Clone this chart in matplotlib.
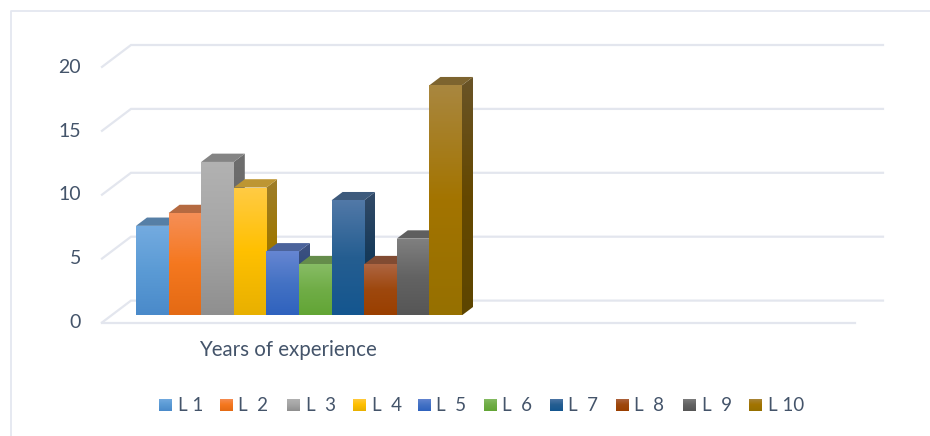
import numpy as np
import matplotlib
matplotlib.use("Agg")
import matplotlib.pyplot as plt
from matplotlib.colors import LinearSegmentedColormap, to_rgb
from matplotlib.patches import Polygon, Rectangle

plt.rcParams["font.family"] = ["Lato", "DejaVu Sans"]

labels = ["L 1", "L  2", "L  3", "L  4", "L  5", "L  6", "L  7", "L  8", "L  9", "L 10"]
values = [7, 8, 12, 10, 5, 4, 9, 4, 6, 18]
y_ticks = [0, 5, 10, 15, 20]
x_label = "Years of experience"

# gradient top / middle / bottom of each front face
top_cols = ["#74ABE0", "#F58F58", "#B2B2B2", "#FFCB45", "#6686D2", "#88BD66", "#5279A8", "#AE6644", "#808080", "#A98740"]
mid_cols = ["#5B9BD5", "#F5781F", "#A5A5A5", "#FFC000", "#4472C4", "#70AD47", "#255E91", "#9E480E", "#636363", "#A37400"]
bot_cols = ["#4A8ACA", "#E46A14", "#8F8F8F", "#E8B000", "#2F62BE", "#62A535", "#14568F", "#9A3F00", "#565656", "#967000"]

W, H = 930, 436
X0, Y0 = 136.0, 315.3  # pixel position of first bar's front bottom corner
BAR_PX, UNIT_PX = 32.6, 12.78
DX, DY = 11 / BAR_PX, 8.3 / UNIT_PX  # bar depth in data units
GRID = "#E3E6EE"
TEXT = "#44546A"


def px(x, y):
    return (x - X0) / BAR_PX, (Y0 - y) / UNIT_PX


def darker(col, f):
    return tuple(c * f for c in to_rgb(col))


def gradient(ax, patch, box, cols, z):
    cmap = LinearSegmentedColormap.from_list("g", cols)
    ramp = np.linspace(0, 1, 128).reshape(-1, 1)
    im = ax.imshow(ramp, extent=box, origin="upper", cmap=cmap, aspect="auto", zorder=z)
    im.set_clip_path(patch)


fig = plt.figure(figsize=(W / 100, H / 100), dpi=100)
ax = fig.add_axes([0, 0, 1, 1])
xlim = (px(0, 0)[0], px(W, 0)[0])
ylim = (px(0, H)[1], px(0, 0)[1])
ax.axis("off")

# outer frame
fx0, fy0 = px(10.5, 10.5)
fx1, fy1 = px(W, H)
ax.plot([fx0, fx0, fx1], [fy1, fy0, fy0], color="#E4E7F0", lw=1.3, zorder=1)

# walls: back grid lines, slanted side lines, front floor edge
bx0, base_back = px(131, 300.6)
bx1 = px(883, 0)[0]
sx0, base_front = px(102, 322.5)
fx_end = px(855, 0)[0]
for v in y_ticks:
    ax.plot([sx0, bx0, bx1], [v + base_front, v + base_back, v + base_back],
            color=GRID, lw=1.6, zorder=1, solid_joinstyle="miter")
ax.plot([sx0, fx_end], [base_front, base_front], color=GRID, lw=1.6, zorder=1)

for v in y_ticks:
    ax.text(px(81, 0)[0], v + base_front - 0.02, str(v), ha="right", va="center",
            fontsize=14, color=TEXT)

# bars, left to right so every bar hides the side of the one before
bars = ax.bar(np.arange(len(values)), values, width=1.0, align="edge", color="none", linewidth=0)
for i, (bar, v) in enumerate(zip(bars, values)):
    z = 3 + i
    side = Polygon([(i + 1, 0), (i + 1 + DX, DY), (i + 1 + DX, v + DY), (i + 1, v)], closed=True,
                   facecolor="none", edgecolor="none", zorder=z)
    ax.add_patch(side)
    gradient(ax, side, (i + 1, i + 1 + DX, 0, v + DY),
             [darker(top_cols[i], 0.62), darker(mid_cols[i], 0.62), darker(bot_cols[i], 0.62)], z)
    ax.add_patch(Polygon([(i, v), (i + DX, v + DY), (i + 1 + DX, v + DY), (i + 1, v)], closed=True,
                         facecolor=darker(top_cols[i], 0.74), edgecolor="none", zorder=z))
    bar.set_zorder(z)
    gradient(ax, bar, (i, i + 1, 0, v), [top_cols[i], mid_cols[i], bot_cols[i]], z)

ax.text(*px(288, 350), x_label, ha="center", va="center", fontsize=14.8, color=TEXT)

# legend
key_x = [159, 220, 287, 353, 418, 484, 550, 616, 683, 749]
for i, (kx, lab) in enumerate(zip(key_x, labels)):
    x0, y0 = px(kx, 411.5)
    x1, y1 = px(kx + 13, 398.5)
    key = Rectangle((x0, y0), x1 - x0, y1 - y0, facecolor="none", edgecolor="none", zorder=3)
    ax.add_patch(key)
    gradient(ax, key, (x0, x1, y0, y1), [top_cols[i], mid_cols[i], bot_cols[i]], 3)
    ax.text(*px(kx + 18.5, 405.5), lab, ha="left", va="center", fontsize=13.5, color=TEXT)

ax.set_xlim(xlim)
ax.set_ylim(ylim)
fig.savefig("out.png", dpi=100)
